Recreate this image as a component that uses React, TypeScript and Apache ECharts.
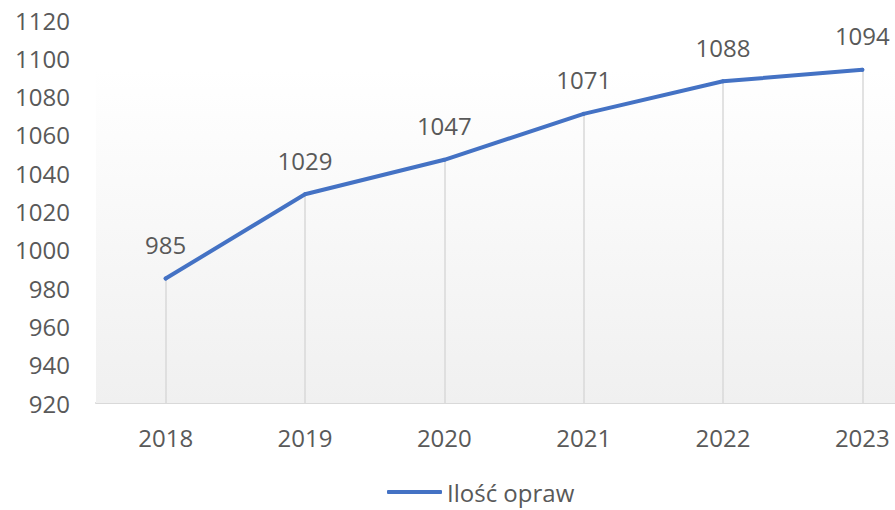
import React, { useEffect, useRef } from "react";
import * as echarts from "echarts";

const categories = ["2018", "2019", "2020", "2021", "2022", "2023"];
const values = [985, 1029, 1047, 1071, 1088, 1094];
const seriesName = "Ilość opraw";
const yMin = 920;
const yMax = 1120;
const yInterval = 20;

export default function App() {
  const ref = useRef<HTMLDivElement>(null);
  useEffect(() => {
    if (!ref.current) return;
    const chart = echarts.init(ref.current, undefined, { renderer: "svg" });
    const font = "'Open Sans', 'Noto Sans', sans-serif";
    const textColor = "#595959";
    const maxVal = Math.max(...values);
    chart.setOption({
      animation: false,
      textStyle: { fontFamily: font },
      grid: { left: 96, top: 20, width: 836, bottom: 107 },
      legend: {
        data: [seriesName],
        left: 387,
        top: 480,
        padding: 0,
        itemWidth: 55,
        itemHeight: 4,
        icon: "roundRect",
        textStyle: { fontFamily: font, fontSize: 24, color: textColor, lineHeight: 24 },
      },
      xAxis: {
        type: "category",
        data: categories,
        boundaryGap: true,
        axisLine: { show: true, lineStyle: { color: "#d9d9d9", width: 2 } },
        axisTick: { show: false },
        axisLabel: { color: textColor, fontSize: 24, fontFamily: font, margin: 22 },
        splitLine: { show: false },
      },
      yAxis: {
        type: "value",
        min: yMin,
        max: yMax,
        interval: yInterval,
        axisLine: { show: false },
        axisTick: { show: false },
        splitLine: { show: false },
        axisLabel: {
          color: textColor,
          fontSize: 24,
          fontFamily: font,
          margin: 26,
          formatter: (v: number) => String(v),
        },
      },
      series: [
        {
          name: "bg",
          type: "line",
          data: values,
          symbol: "none",
          lineStyle: { opacity: 0 },
          silent: true,
          z: 1,
          markArea: {
            silent: true,
            itemStyle: {
              color: new echarts.graphic.LinearGradient(0, 0, 0, 1, [
                { offset: 0, color: "#ffffff" },
                { offset: 1, color: "#f0f0f0" },
              ]),
            },
            data: [[{ yAxis: maxVal }, { yAxis: yMin }]],
          },
          markLine: {
            silent: true,
            symbol: ["none", "none"],
            label: { show: false },
            lineStyle: { color: "#d9d9d9", type: "solid", width: 1.5 },
            data: values.map((v, i) => [
              { coord: [i, v] },
              { coord: [i, yMin] },
            ]),
          },
        },
        {
          name: seriesName,
          type: "line",
          data: values,
          z: 5,
          symbol: "circle",
          symbolSize: 4,
          itemStyle: { color: "#4472C4" },
          lineStyle: { color: "#4472C4", width: 4, cap: "round", join: "round" },
          label: {
            show: true,
            position: "top",
            distance: 20,
            color: textColor,
            fontSize: 24,
            fontFamily: font,
          },
        },
      ],
    });
    return () => chart.dispose();
  }, []);
  return (
    <div style={{ width: 895, height: 510, position: "absolute", left: 0, top: 0, overflow: "hidden" }}>
      <div ref={ref} style={{ width: 940, height: 510 }} />
    </div>
  );
}
